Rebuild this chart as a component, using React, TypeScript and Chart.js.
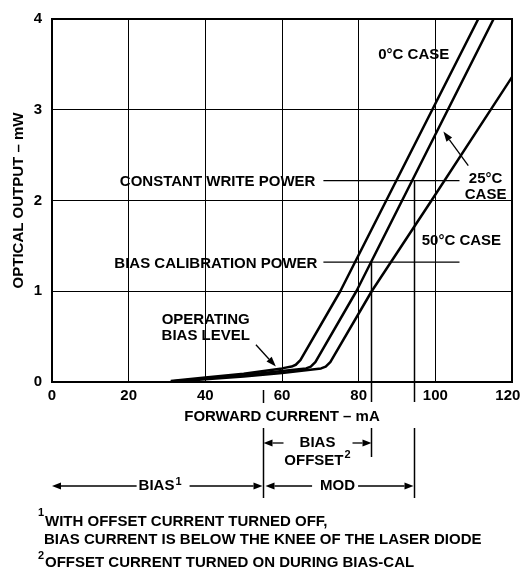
import React, { useEffect, useRef } from "react";
import { Chart, registerables } from "chart.js";

Chart.register(...registerables);

// ---- data ----
const xTickValues = [0, 20, 40, 60, 80, 100, 120];
const yTickValues = [0, 1, 2, 3, 4];

const current0C = [31, 40, 50, 60, 62.5, 63.6, 64.8, 75.2, 111.2];
const power0C = [0.01, 0.05, 0.09, 0.15, 0.17, 0.19, 0.24, 1, 4];

const current25C = [31, 40, 50, 60, 66.3, 67.5, 68.7, 79.4, 115.2];
const power25C = [0.005, 0.04, 0.075, 0.12, 0.15, 0.17, 0.22, 1, 4];

const current50C = [31, 40, 50, 60, 70.2, 71.4, 72.6, 83.4, 99, 120];
const power50C = [0, 0.03, 0.06, 0.1, 0.15, 0.17, 0.22, 1, 2, 3.36];

const writePower = 2.22; // mW
const biasCalPower = 1.32; // mW
const levelLineFrom = 70.8; // mA
const levelLineTo = 106.3; // mA
const biasCurrent = 55; // mA
const biasCalCurrent = 83.3; // mA
const writeCurrent = 94.5; // mA

const footnotes = [
  "WITH OFFSET CURRENT TURNED OFF,",
  "BIAS CURRENT IS BELOW THE KNEE OF THE LASER DIODE",
  "OFFSET CURRENT TURNED ON DURING BIAS-CAL",
];

const FAMILY = "'Liberation Sans', Arial, Helvetica, sans-serif";
const F15 = `bold 15px ${FAMILY}`;
const F11 = `bold 11px ${FAMILY}`;

function toXY(xs: number[], ys: number[]) {
  return xs.map((v, i) => ({ x: v, y: ys[i] }));
}

function arrow(ctx: CanvasRenderingContext2D, x1: number, y1: number, x2: number, y2: number, head = 9, half = 3.5) {
  const ang = Math.atan2(y2 - y1, x2 - x1);
  const bx = x2 - head * Math.cos(ang);
  const by = y2 - head * Math.sin(ang);
  ctx.beginPath();
  ctx.moveTo(x1, y1);
  ctx.lineTo(bx, by);
  ctx.stroke();
  ctx.beginPath();
  ctx.moveTo(x2, y2);
  ctx.lineTo(bx + half * Math.sin(ang), by - half * Math.cos(ang));
  ctx.lineTo(bx - half * Math.sin(ang), by + half * Math.cos(ang));
  ctx.closePath();
  ctx.fill();
}

function line(ctx: CanvasRenderingContext2D, x1: number, y1: number, x2: number, y2: number) {
  ctx.beginPath();
  ctx.moveTo(x1, y1);
  ctx.lineTo(x2, y2);
  ctx.stroke();
}

function text(ctx: CanvasRenderingContext2D, s: string, x: number, y: number, align: CanvasTextAlign = "center", font = F15) {
  ctx.font = font;
  ctx.textAlign = align;
  ctx.textBaseline = "middle";
  ctx.fillText(s, x, y);
}

const annotations = {
  id: "annotations",
  afterDraw(chart: any) {
    const { ctx, chartArea: ca, scales } = chart;
    const X = (v: number) => scales.x.getPixelForValue(v);
    const Y = (v: number) => scales.y.getPixelForValue(v);
    const b = ca.bottom;
    ctx.save();
    ctx.strokeStyle = "#000";
    ctx.fillStyle = "#000";

    // frame
    ctx.lineWidth = 2;
    ctx.strokeRect(ca.left, ca.top, ca.right - ca.left, ca.bottom - ca.top);

    // power levels
    ctx.lineWidth = 1.3;
    line(ctx, X(levelLineFrom), Y(writePower), X(levelLineTo), Y(writePower));
    line(ctx, X(levelLineFrom), Y(biasCalPower), X(levelLineTo), Y(biasCalPower));
    text(ctx, "CONSTANT WRITE POWER", X(levelLineFrom) - 8, Y(writePower) + 1, "right");
    text(ctx, "BIAS CALIBRATION POWER", X(levelLineFrom) - 6, Y(biasCalPower) + 2, "right");

    // current markers
    ctx.lineWidth = 1.5;
    const xb = Math.round(X(biasCurrent)) + 0.5;
    const xc = Math.round(X(biasCalCurrent)) + 0.5;
    const xw = Math.round(X(writeCurrent)) + 0.5;
    line(ctx, xc, Y(biasCalPower), xc, b + 20);
    line(ctx, xc, b + 46, xc, b + 75);
    line(ctx, xw, Y(writePower), xw, b + 20);
    line(ctx, xw, b + 46, xw, b + 116);
    line(ctx, xb, b + 8, xb, b + 21);
    line(ctx, xb, b + 46, xb, b + 116);

    // curve labels
    text(ctx, "0°C CASE", X(85.1), Y(3.61), "left");
    text(ctx, "25°C", X(113.1), Y(2.233));
    text(ctx, "CASE", X(113.1), Y(2.06));
    text(ctx, "50°C CASE", X(106.8), Y(1.55));
    ctx.lineWidth = 1.3;
    arrow(ctx, X(108.6), Y(2.385), X(102.1), Y(2.76), 10, 3.5);
    text(ctx, "OPERATING", X(40.1), Y(0.683));
    text(ctx, "BIAS LEVEL", X(40.1), Y(0.51));
    arrow(ctx, X(53.2), Y(0.41), X(58.4), Y(0.17), 10, 3.5);

    // axis titles
    text(ctx, "FORWARD CURRENT – mA", (ca.left + ca.right) / 2, b + 35);
    ctx.save();
    ctx.translate(18.5, (ca.top + ca.bottom) / 2);
    ctx.rotate(-Math.PI / 2);
    text(ctx, "OPTICAL OUTPUT – mW", 0, 0);
    ctx.restore();

    // bias offset
    ctx.lineWidth = 1.3;
    const yo = b + 61;
    arrow(ctx, xb + 20, yo, xb, yo, 9, 3.5);
    arrow(ctx, xc - 19, yo, xc, yo, 9, 3.5);
    const mid = (xb + xc) / 2;
    text(ctx, "BIAS", mid, yo);
    ctx.font = F15;
    const wOff = ctx.measureText("OFFSET").width;
    ctx.font = F11;
    const wSup = ctx.measureText("2").width;
    const offLeft = mid - (wOff + wSup + 1) / 2;
    text(ctx, "OFFSET", offLeft, yo + 18, "left");
    text(ctx, "2", offLeft + wOff + 1, yo + 12, "left", F11);

    // bias / mod row
    const yr = b + 104;
    ctx.font = F15;
    const wBias = ctx.measureText("BIAS").width;
    const wMod = ctx.measureText("MOD").width;
    ctx.font = F11;
    const wOne = ctx.measureText("1").width;
    const biasCenter = X(28.2);
    const bL = biasCenter - (wBias + wOne + 1) / 2;
    const bR = bL + wBias + wOne + 1;
    arrow(ctx, bL - 2, yr, ca.left, yr, 9, 3.5);
    arrow(ctx, bR + 8, yr, xb - 1, yr, 9, 3.5);
    text(ctx, "BIAS", bL, yr, "left");
    text(ctx, "1", bL + wBias + 1, yr - 4, "left", F11);
    const modCenter = X(74.5);
    const mL = modCenter - wMod / 2;
    const mR = modCenter + wMod / 2;
    arrow(ctx, mL - 8, yr, xb + 2, yr, 9, 3.5);
    arrow(ctx, mR + 3, yr, xw - 1, yr, 9, 3.5);
    text(ctx, "MOD", modCenter, yr);

    // footnotes
    text(ctx, "1", 38, 513, "left", F11);
    text(ctx, footnotes[0], 45, 522, "left");
    text(ctx, footnotes[1], 44, 539.5, "left");
    text(ctx, "2", 38, 556, "left", F11);
    text(ctx, footnotes[2], 45, 562.5, "left");

    ctx.restore();
  },
};

export default function App() {
  const ref = useRef<HTMLCanvasElement>(null);

  useEffect(() => {
    if (!ref.current) return;
    const curve = (data: { x: number; y: number }[]) => ({
      data,
      borderColor: "#000",
      borderWidth: 2.5,
      pointRadius: 0,
      fill: false,
      tension: 0,
      borderJoinStyle: "round" as const,
    });
    const chart = new Chart(ref.current, {
      type: "line",
      data: {
        datasets: [
          { label: "0°C CASE", ...curve(toXY(current0C, power0C)) },
          { label: "25°C CASE", ...curve(toXY(current25C, power25C)) },
          { label: "50°C CASE", ...curve(toXY(current50C, power50C)) },
        ],
      },
      options: {
        animation: false,
        responsive: false,
        devicePixelRatio: 1,
        layout: { padding: { top: 13, right: 10, left: 0, bottom: 0 } },
        plugins: { legend: { display: false }, tooltip: { enabled: false } },
        scales: {
          x: {
            type: "linear",
            min: 0,
            max: 120,
            afterBuildTicks: (s: any) => {
              s.ticks = xTickValues.map((v) => ({ value: v }));
            },
            afterFit: (s: any) => {
              s.height = 191;
              s.paddingLeft = 0;
              s.paddingRight = 0;
            },
            grid: { color: "#000", lineWidth: 1, drawTicks: false },
            border: { display: false },
            ticks: {
              color: "#000",
              font: { family: FAMILY, size: 15, weight: "bold" },
              padding: 5,
              maxRotation: 0,
              autoSkip: false,
              callback: (v: any) => (v === 120 ? "120\u00A0\u00A0" : String(v)),
            },
          },
          y: {
            type: "linear",
            min: 0,
            max: 4,
            afterBuildTicks: (s: any) => {
              s.ticks = yTickValues.map((v) => ({ value: v }));
            },
            afterFit: (s: any) => {
              s.width = 52;
            },
            grid: { color: "#000", lineWidth: 1, drawTicks: false },
            border: { display: false },
            ticks: {
              color: "#000",
              font: { family: FAMILY, size: 15, weight: "bold" },
              padding: 10,
              autoSkip: false,
            },
          },
        },
      },
      plugins: [annotations],
    } as any);
    return () => chart.destroy();
  }, []);

  return (
    <div style={{ position: "fixed", left: 0, top: 0, width: 522, height: 573, background: "#fff" }}>
      <canvas ref={ref} width={522} height={573} style={{ display: "block" }} />
    </div>
  );
}
